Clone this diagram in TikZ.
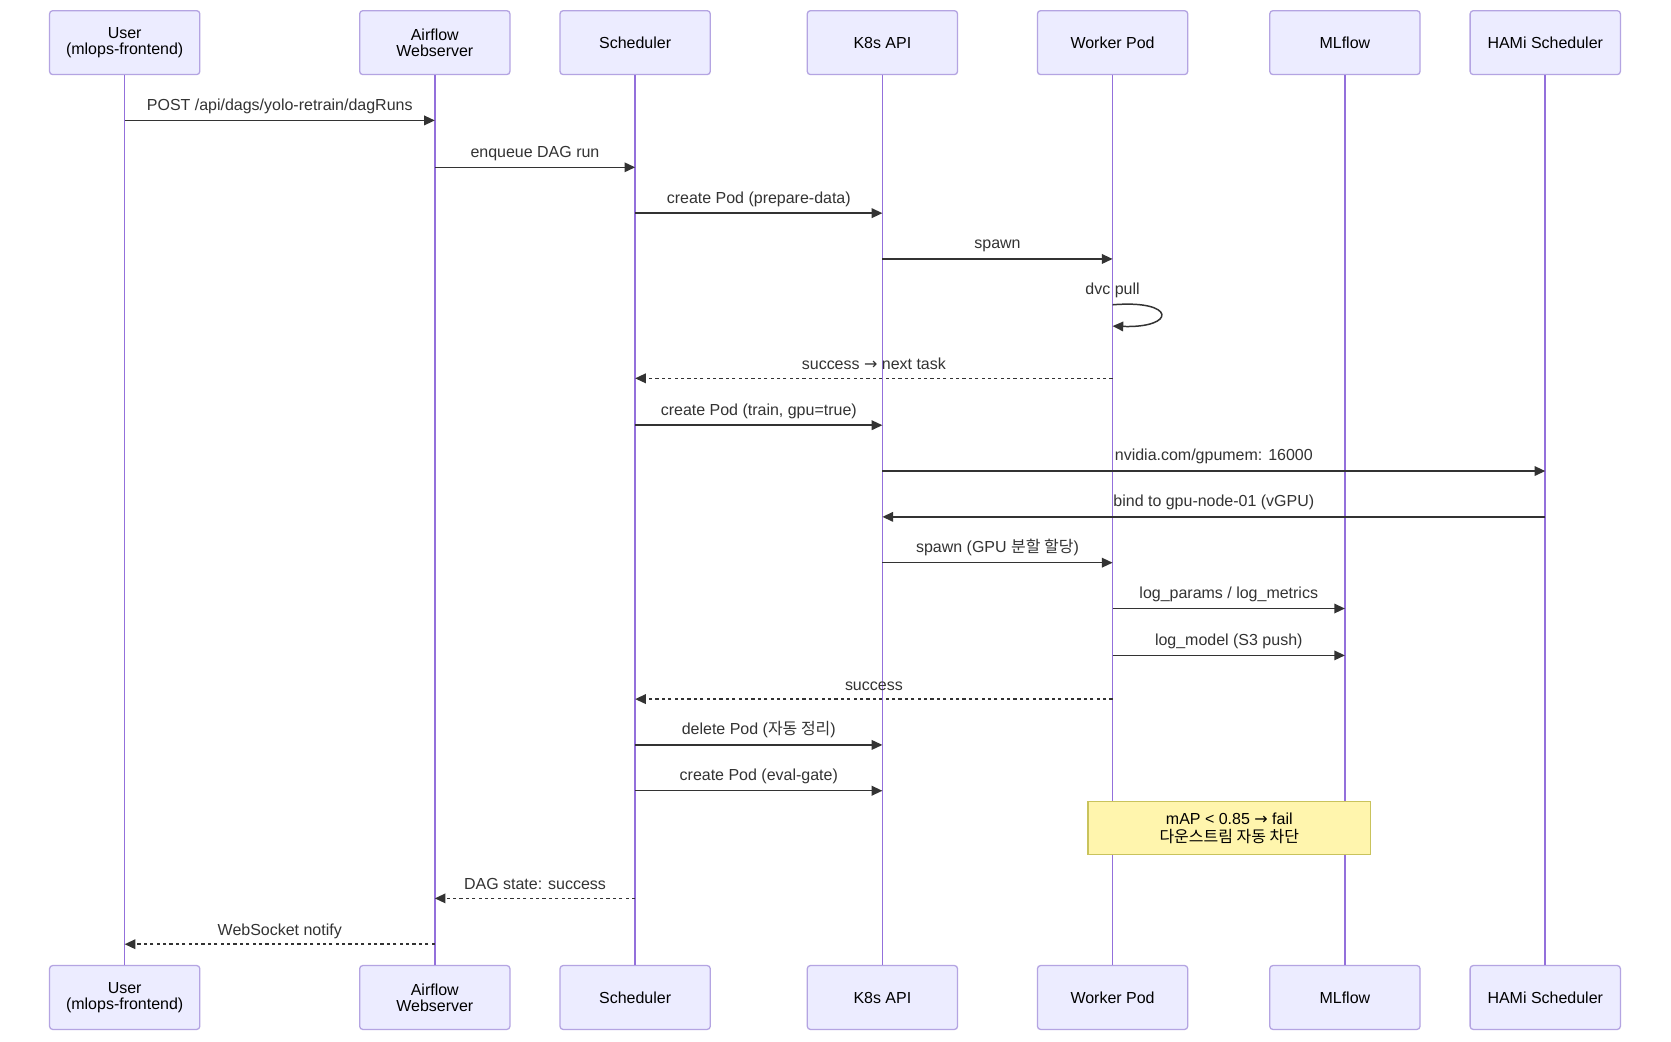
\documentclass[tikz,border=0pt]{standalone}
\usepackage{fontspec}
\setmainfont{Liberation Sans}
\newfontfamily\kr{Noto Sans CJK KR}
\newfontfamily\arr{DejaVu Sans}
\usetikzlibrary{arrows.meta,calc}
\definecolor{actfill}{HTML}{ECECFF}
\definecolor{actborder}{HTML}{B4A4E2}
\definecolor{lifec}{HTML}{9370DB}
\definecolor{msgc}{HTML}{333333}
\definecolor{notefill}{HTML}{FFF5AD}
\definecolor{noteborder}{HTML}{C9C35C}
\begin{document}
\begin{tikzpicture}[x=1pt,y=-1pt,
  actor/.style={draw=actborder, fill=actfill, line width=1.2pt, rounded corners=3pt,
    minimum width=141pt, minimum height=60pt, align=center, inner sep=0pt,
    font=\fontsize{15}{15}\selectfont},
  life/.style={draw=lifec, line width=1.5pt},
  msg/.style={draw=msgc, line width=1.4pt, -{Triangle[length=10pt,width=9pt]}},
  reply/.style={msg, dash pattern=on 3pt off 3pt},
  lbl/.style={font=\fontsize{15}{17}\selectfont, text=msgc, inner sep=0pt, anchor=base, yshift=9.5pt},
  notebox/.style={draw=noteborder, fill=notefill, line width=1.2pt, minimum width=265pt,
    minimum height=50pt, align=center, inner sep=0pt, font=\fontsize{15}{16}\selectfont}
]
\useasboundingbox[fill=white] (0,0) rectangle (1568,977);

% actors top
\node[actor] (ut) at (117,40) {\rule{0pt}{3pt}User\\(mlops-frontend)};
\node[actor] (at) at (408,40) {\rule{0pt}{3pt}Airflow\\Webserver};
\node[actor] (st) at (596,40) {Scheduler};
\node[actor] (kt) at (828,40) {K8s API};
\node[actor] (wt) at (1044,40) {Worker Pod};
\node[actor] (mt) at (1262,40) {MLflow};
\node[actor] (ht) at (1450,40) {HAMi Scheduler};
% actors bottom
\node[actor] (ub) at (117,936) {\rule{0pt}{3pt}User\\(mlops-frontend)};
\node[actor] (ab) at (408,936) {\rule{0pt}{3pt}Airflow\\Webserver};
\node[actor] (sb) at (596,936) {Scheduler};
\node[actor] (kb) at (828,936) {K8s API};
\node[actor] (wb) at (1044,936) {Worker Pod};
\node[actor] (mb) at (1262,936) {MLflow};
\node[actor] (hb) at (1450,936) {HAMi Scheduler};

% lifelines
\foreach \a/\b in {ut/ub,at/ab,st/sb,kt/kb,wt/wb,mt/mb,ht/hb}
  \draw[life] (\a.south) -- (\b.north);

% message rows
\coordinate (m1) at (0,113);
\coordinate (m2) at (0,157);
\coordinate (m3) at (0,200);
\coordinate (m4) at (0,243);
\coordinate (m5) at (0,286);
\coordinate (m6) at (0,355);
\coordinate (m7) at (0,399);
\coordinate (m8) at (0,442);
\coordinate (m9) at (0,485);
\coordinate (m10) at (0,528);
\coordinate (m11) at (0,571);
\coordinate (m12) at (0,615);
\coordinate (m13) at (0,656);
\coordinate (m14) at (0,699);
\coordinate (m15) at (0,742);
\coordinate (m17) at (0,843);
\coordinate (m18) at (0,886);

\draw[msg] (ut |- m1) -- node[lbl] {POST /api/dags/yolo-retrain/dagRuns} (at |- m1);
\draw[msg] (at |- m2) -- node[lbl] {enqueue DAG run} (st |- m2);
\draw[msg] (st |- m3) -- node[lbl] {create Pod (prepare-data)} (kt |- m3);
\draw[msg] (kt |- m4) -- node[lbl] {spawn} (wt |- m4);
\node[lbl] (dvc) at (wt |- m5) {dvc pull};
\draw[msg] (wt |- m5) .. controls ($(wt |- m5)+(60,-5)$) and ($(wt |- m5)+(60,22)$) .. ($(wt |- m5)+(0,20)$);
\draw[reply] (wt |- m6) -- node[lbl, yshift=-1pt] {success {\arr →} next task} (st |- m6);
\draw[msg] (st |- m7) -- node[lbl] {create Pod (train, gpu=true)} (kt |- m7);
\draw[msg] (kt |- m8) -- node[lbl] {nvidia.com/gpumem: 16000} (ht |- m8);
\draw[msg] (ht |- m9) -- node[lbl] {bind to gpu-node-01 (vGPU)} (kt |- m9);
\draw[msg] (kt |- m10) -- node[lbl] {spawn (GPU {\kr 분할 할당})} (wt |- m10);
\draw[msg] (wt |- m11) -- node[lbl] {log\_params / log\_metrics} (mt |- m11);
\draw[msg] (wt |- m12) -- node[lbl] {log\_model (S3 push)} (mt |- m12);
\draw[reply] (wt |- m13) -- node[lbl, yshift=-1pt] {success} (st |- m13);
\draw[msg] (st |- m14) -- node[lbl] {delete Pod ({\kr 자동 정리})} (kt |- m14);
\draw[msg] (st |- m15) -- node[lbl] {create Pod (eval-gate)} (kt |- m15);

\node[notebox] (note) at (1153.5,777) {mAP < 0.85 {\arr →} fail\\[1pt]{\kr 다운스트림 자동 차단}};

\draw[reply] (st |- m17) -- node[lbl, yshift=-1pt] {DAG state: success} (at |- m17);
\draw[reply] (at |- m18) -- node[lbl, yshift=-1pt] {WebSocket notify} (ut |- m18);
\end{tikzpicture}
\end{document}
